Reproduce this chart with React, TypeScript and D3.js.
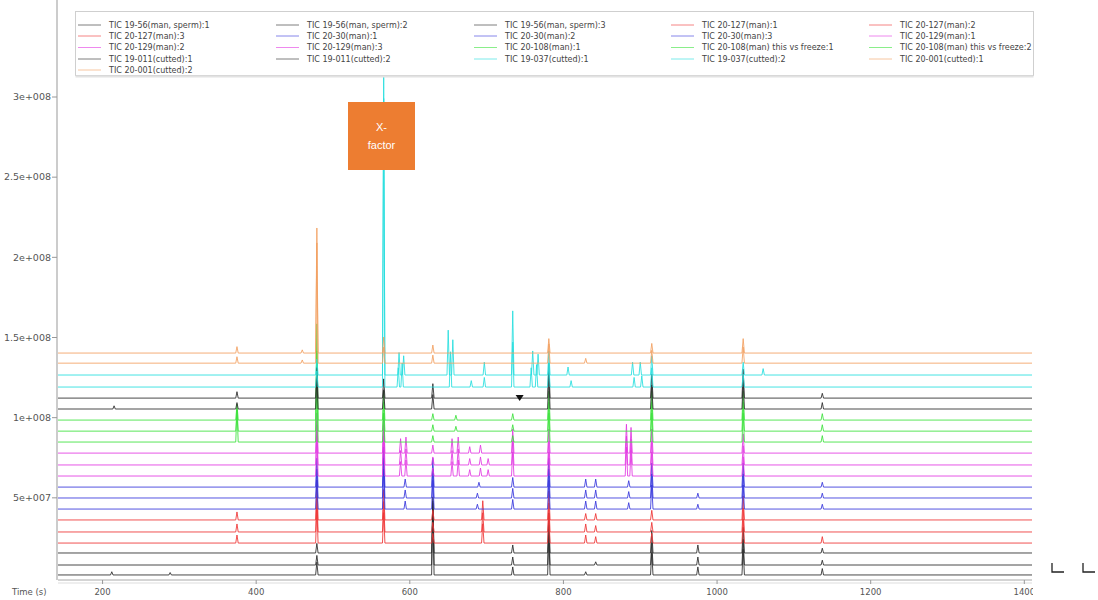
import React from "react";
import * as d3 from "d3";

// chromatogram overlay: each trace is drawn as its baseline plus the peaks
const traceNames = [
  "TIC 19-56(man, sperm):1", "TIC 19-56(man, sperm):2", "TIC 19-56(man, sperm):3",
  "TIC 20-127(man):1", "TIC 20-127(man):2", "TIC 20-127(man):3",
  "TIC 20-30(man):1", "TIC 20-30(man):2", "TIC 20-30(man):3",
  "TIC 20-129(man):1", "TIC 20-129(man):2", "TIC 20-129(man):3",
  "TIC 20-108(man):1", "TIC 20-108(man) this vs freeze:1", "TIC 20-108(man) this vs freeze:2",
  "TIC 19-011(cutted):1", "TIC 19-011(cutted):2",
  "TIC 19-037(cutted):1", "TIC 19-037(cutted):2",
  "TIC 20-001(cutted):1", "TIC 20-001(cutted):2",
];

const traceColors = [
  "#2a2a2a", "#2a2a2a", "#2a2a2a",
  "#ee3434", "#ee3434", "#ee3434",
  "#3636dc", "#3636dc", "#3636dc",
  "#e23ae2", "#e23ae2", "#e23ae2",
  "#3ce23c", "#3ce23c", "#3ce23c",
  "#2a2a2a", "#2a2a2a",
  "#26dede", "#26dede",
  "#f2a060", "#f2a060",
];

// stacked offsets of each trace (units of 1e6)
const baselines = [1.9, 8.1, 15.6, 21.8, 28.7, 36.2, 43.0, 49.9, 56.7, 63.6, 70.5,
  77.9, 84.8, 91.6, 98.5, 105.4, 112.2, 119.1, 126.6, 134.0, 140.3];

// peaks: [time (s), height above baseline (1e6)]
const peaks19_56 = [
  [[212, 2], [288, 1.5], [479, 8], [630, 45], [734, 5], [781, 25], [829, 2], [915, 14], [975, 5], [1034, 16], [1137, 4]],
  [[479, 6], [630, 40], [734, 5], [781, 25], [842, 2], [915, 14], [975, 5], [1034, 16], [1137, 3]],
  [[479, 6], [630, 35], [734, 5], [781, 25], [915, 14], [975, 5], [1034, 16], [1137, 3]],
];
const peaks20_127 = [
  [[375, 5], [479, 22], [566, 19], [630, 6], [695, 12], [781, 18], [829, 5], [842, 4], [915, 6], [1034, 15], [1137, 4]],
  [[375, 5], [479, 22], [566, 19], [630, 6], [695, 12], [781, 18], [829, 5], [842, 4], [915, 6], [1034, 15]],
  [[375, 5], [479, 25], [566, 19], [630, 6], [695, 12], [781, 18], [829, 4], [842, 4], [915, 6], [1034, 15]],
];
const peaks20_30 = [
  [[479, 18], [566, 25], [594, 5], [630, 18], [688, 3], [734, 6], [781, 18], [829, 5], [842, 5], [885, 4], [915, 15], [975, 3], [1034, 15], [1137, 3]],
  [[479, 18], [566, 25], [594, 5], [630, 18], [688, 3], [734, 6], [781, 18], [829, 5], [842, 5], [885, 4], [915, 15], [975, 3], [1034, 15], [1137, 3]],
  [[479, 18], [566, 25], [594, 5], [630, 18], [690, 3], [734, 6], [781, 18], [829, 5], [842, 5], [885, 4], [915, 15], [1034, 15], [1137, 3]],
];
const peaks20_129 = [
  [[479, 25], [566, 25], [588, 9], [595, 10], [630, 5], [655, 9], [663, 10], [678, 4], [692, 5], [702, 4], [734, 15], [781, 15], [882, 18], [888, 16], [915, 15], [1034, 12]],
  [[479, 25], [566, 25], [588, 9], [595, 10], [630, 5], [655, 9], [663, 10], [678, 4], [692, 5], [702, 4], [734, 15], [781, 15], [882, 18], [888, 16], [915, 15], [1034, 12]],
  [[479, 25], [566, 25], [588, 9], [595, 10], [630, 5], [655, 9], [663, 10], [678, 4], [692, 5], [734, 15], [781, 15], [882, 18], [888, 16], [915, 15], [1034, 12]],
];
const peaks20_108 = [
  [[375, 20], [479, 40], [566, 18], [630, 4], [734, 4], [781, 18], [915, 18], [1034, 18], [1137, 4]],
  [[375, 14], [479, 50], [566, 18], [630, 4], [660, 3], [734, 4], [781, 18], [915, 18], [1034, 18], [1137, 4]],
  [[375, 10], [479, 60], [566, 18], [630, 4], [660, 3], [734, 4], [781, 18], [915, 18], [1034, 18], [1137, 4]],
];
const peaks19_011 = [
  [[215, 2], [375, 4], [479, 19], [566, 12], [630, 9], [781, 22], [915, 15], [1034, 18], [1137, 4]],
  [[375, 4], [479, 19], [566, 12], [630, 9], [781, 22], [915, 15], [1034, 18], [1137, 3]],
];
const peaks19_037 = [
  [[479, 10], [566, 180], [585, 12], [590, 15], [653, 22], [680, 4], [697, 6], [734, 28], [758, 12], [765, 14], [781, 15], [810, 4], [892, 6], [902, 7], [915, 12], [1034, 8]],
  [[479, 10], [566, 190], [586, 14], [592, 12], [650, 28], [656, 22], [697, 8], [734, 40], [760, 15], [767, 13], [781, 15], [806, 5], [890, 8], [900, 8], [915, 12], [1034, 8], [1060, 4]],
];
const peaks20_001 = [
  [[375, 4], [460, 2], [479, 75], [566, 10], [630, 5], [781, 12], [829, 3], [915, 8], [1034, 10]],
  [[375, 4], [460, 2], [479, 78], [566, 10], [630, 5], [781, 9], [915, 6], [1034, 9]],
];

const tracePeaks = [...peaks19_56, ...peaks20_127, ...peaks20_30, ...peaks20_129,
  ...peaks20_108, ...peaks19_011, ...peaks19_037, ...peaks20_001];

const markerPoint = [743, 112.2]; // black marker on 19-011(cutted):2

const yTicks = [5e7, 1e8, 1.5e8, 2e8, 2.5e8, 3e8];
const yTickLabels = ["5e+007", "1e+008", "1.5e+008", "2e+008", "2.5e+008", "3e+008"];
const xTicks = [200, 400, 600, 800, 1000, 1200, 1400];

const timeRange = [142, 1410];

export default function App() {
  const left = 58, right = 1032, axisY = 580;

  const x = d3.scaleLinear().domain(timeRange).range([left, right]);
  const y = d3.scaleLinear().domain([0, 3e8]).range([578, 97]);

  const line = d3.line<number[]>().x(d => x(d[0])).y(d => y(d[1]));

  const tracePoints = (base: number, pk: number[][]) => {
    const b = base * 1e6;
    const pts: number[][] = [[timeRange[0], b]];
    pk.forEach(([t, h]) => {
      pts.push([t - 1.6, b], [t, b + h * 1e6], [t + 1.6, b]);
    });
    pts.push([timeRange[1], b]);
    return pts;
  };

  const legendColX = [78, 276, 474, 671, 869];
  const legendRowY = [25, 36, 47.5, 59, 70];

  return (
    <svg width={1098} height={600} style={{ position: "absolute", left: 0, top: 0, background: "#fff" }}>
      <defs>
        <clipPath id="plot">
          <rect x={left} y={0} width={right - left} height={axisY} />
        </clipPath>
        <clipPath id="xlab">
          <rect x={0} y={580} width={right + 1} height={20} />
        </clipPath>
      </defs>

      <g clipPath="url(#plot)">
        {tracePeaks.map((pk, i) => (
          <path key={i} d={line(tracePoints(baselines[i], pk)) || ""}
            fill="none" stroke={traceColors[i]} strokeWidth={1} strokeOpacity={0.85} />
        ))}
        <path
          d={`M${x(markerPoint[0]) - 4},${y(markerPoint[1] * 1e6) - 3}h8l-4,6z`}
          fill="#111" />
      </g>

      {/* y axis */}
      <line x1={57} x2={57} y1={0} y2={axisY} stroke="#999" />
      {yTicks.map((v, i) => (
        <g key={v}>
          <line x1={52} x2={57} y1={y(v)} y2={y(v)} stroke="#999" />
          <text x={51} y={y(v)} dy="0.35em" textAnchor="end" fontSize={9.5}
            fontFamily="DejaVu Sans" fill="#555">{yTickLabels[i]}</text>
        </g>
      ))}

      {/* x axis */}
      <line x1={left} x2={right} y1={axisY} y2={axisY} stroke="#aaa" />
      <line x1={left} x2={right} y1={axisY + 3} y2={axisY + 3} stroke="#ddd" />
      <g clipPath="url(#xlab)">
        {xTicks.map(t => (
          <g key={t}>
            <line x1={x(t)} x2={x(t)} y1={axisY} y2={axisY + 4} stroke="#999" />
            <text x={x(t)} y={595} textAnchor="middle" fontSize={8.5}
              fontFamily="DejaVu Sans" fill="#555">{t}</text>
          </g>
        ))}
      </g>
      <text x={12} y={595} fontSize={8.5} fontFamily="DejaVu Sans" fill="#555">Time (s)</text>

      {/* legend */}
      <rect x={75.5} y={11.5} width={958} height={64} fill="#fff" stroke="#cfcfcf" />
      <line x1={75.5} x2={1033.5} y1={76.5} y2={76.5} stroke="#e2e2e2" strokeWidth={2} />
      {traceNames.map((name, i) => {
        const cx = legendColX[i % 5];
        const cy = legendRowY[Math.floor(i / 5)];
        return (
          <g key={name}>
            <line x1={cx} x2={cx + 23} y1={cy} y2={cy} stroke={traceColors[i]} strokeOpacity={0.6} />
            <text x={cx + 31} y={cy} dy="0.35em" fontSize={8} fontFamily="DejaVu Sans" fill="#444">{name}</text>
          </g>
        );
      })}

      {/* annotation box */}
      <rect x={348} y={102} width={67} height={68} fill="#ed7d31" />
      <text x={381.5} y={131} textAnchor="middle" fontSize={11} fontFamily="Liberation Sans" fill="#fff">X-</text>
      <text x={381.5} y={149} textAnchor="middle" fontSize={11} fontFamily="Liberation Sans" fill="#fff">factor</text>

      {/* stray marks at bottom right */}
      <path d="M1052,563V572H1064M1083,563V572H1095" fill="none" stroke="#222" strokeWidth={1.3} />
    </svg>
  );
}
